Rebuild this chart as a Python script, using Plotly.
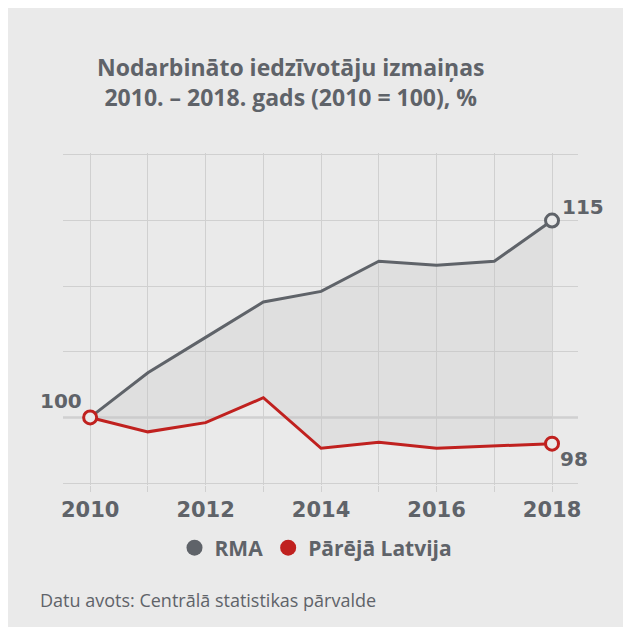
import plotly.graph_objects as go

years = [2010, 2011, 2012, 2013, 2014, 2015, 2016, 2017, 2018]
rma = [100, 103.4, 106.1, 108.8, 109.6, 111.9, 111.6, 111.9, 115]
latvija = [100, 98.9, 99.6, 101.5, 97.65, 98.1, 97.65, 97.8, 98.0]
series_names = ["RMA", "Pārējā Latvija"]
tick_labels = ["2010", "", "2012", "", "2014", "", "2016", "", "2018"]
title_text = "Nodarbināto iedzīvotāju izmaiņas<br>2010. – 2018. gads (2010 = 100), %"
source_text = "Datu avots: Centrālā statistikas pārvalde"

GRAY = "#5f6369"
RED = "#c0211f"
BG = "#eaeaea"
GRID = "#d0d0d0"
FONT = "Open Sans"
NUMFONT = "DejaVu Sans"

OFF = 8  # page body margin
W, H = 631, 627
L, T = 63 - OFF, 145
pw, ph = 515, 332
R, B = W - L - pw, H - T - ph
YR = [94.85, 120.15]

def px_x(x):
    return (x - OFF - L) / pw

def px_y(y):
    return (T + ph - (y - OFF)) / ph

fig = go.Figure()

fig.add_trace(go.Scatter(x=years, y=latvija, mode="lines", line=dict(color=RED, width=3),
                         showlegend=False, hoverinfo="skip"))
fig.add_trace(go.Scatter(x=years, y=rma, mode="lines", line=dict(color=GRAY, width=3),
                         fill="tonexty", fillcolor="rgba(190,190,190,0.25)",
                         showlegend=False, hoverinfo="skip"))
fig.add_trace(go.Scatter(x=[years[-1]], y=[rma[-1]], mode="markers",
                         marker=dict(size=13, color=BG, line=dict(color=GRAY, width=3)),
                         showlegend=False, hoverinfo="skip"))
fig.add_trace(go.Scatter(x=[years[0], years[-1]], y=[latvija[0], latvija[-1]], mode="markers",
                         marker=dict(size=13, color=BG, line=dict(color=RED, width=3)),
                         showlegend=False, hoverinfo="skip"))
fig.add_trace(go.Scatter(x=[None], y=[None], mode="markers", name=series_names[0],
                         marker=dict(size=20, color=GRAY)))
fig.add_trace(go.Scatter(x=[None], y=[None], mode="markers", name=series_names[1],
                         marker=dict(size=20, color=RED)))

fig.add_shape(type="line", xref="paper", yref="y", x0=0, x1=1, y0=100, y1=100,
              line=dict(color="#9a9c9f", width=1.5), layer="below")

fig.add_annotation(x=years[0], y=rma[0], text="<b>100</b>", showarrow=False,
                   xanchor="right", yanchor="bottom", xshift=-6, yshift=2,
                   font=dict(family=NUMFONT, size=20, color=GRAY))
fig.add_annotation(x=years[-1], y=rma[-1], text="<b>115</b>", showarrow=False,
                   xanchor="left", yanchor="bottom", xshift=8, yshift=0,
                   font=dict(family=NUMFONT, size=20, color=GRAY))
fig.add_annotation(x=years[-1], y=latvija[-1], text="<b>98</b>", showarrow=False,
                   xanchor="left", yanchor="top", xshift=6, yshift=-1,
                   font=dict(family=NUMFONT, size=20, color=GRAY))

fig.add_annotation(xref="paper", yref="paper", x=px_x(291), y=px_y(82), text="<b>" + title_text + "</b>",
                   showarrow=False, xanchor="center", yanchor="middle", align="center",
                   font=dict(family=FONT, size=23, color=GRAY))
fig.add_annotation(xref="paper", yref="paper", x=px_x(38), y=px_y(600), text=source_text,
                   showarrow=False, xanchor="left", yanchor="middle",
                   font=dict(family=FONT, size=18, color=GRAY))

fig.update_layout(
    width=W, height=H,
    margin=dict(l=L, r=R, t=T, b=B),
    paper_bgcolor=BG, plot_bgcolor=BG,
    showlegend=True,
    legend=dict(orientation="h", xanchor="center", yanchor="middle",
                x=px_x(316), y=px_y(548), font=dict(family=FONT, size=21, color=GRAY, weight="bold"),
                bgcolor="rgba(0,0,0,0)", itemwidth=30, traceorder="normal"),
    xaxis=dict(range=[2009.53, 2018.45], tickvals=years, ticktext=tick_labels,
               showgrid=True, gridcolor=GRID, gridwidth=1, zeroline=False,
               ticks="outside", ticklen=6, tickcolor=GRID, tickwidth=1,
               tickfont=dict(family=NUMFONT, size=21, color=GRAY, weight="bold"),
               showline=False, fixedrange=True),
    yaxis=dict(range=YR, tickvals=[95, 100, 105, 110, 115, 120], showticklabels=False, showgrid=True,
               gridcolor=GRID, gridwidth=1, zeroline=False, showline=False, fixedrange=True),
)

fig.write_html("out.html")
